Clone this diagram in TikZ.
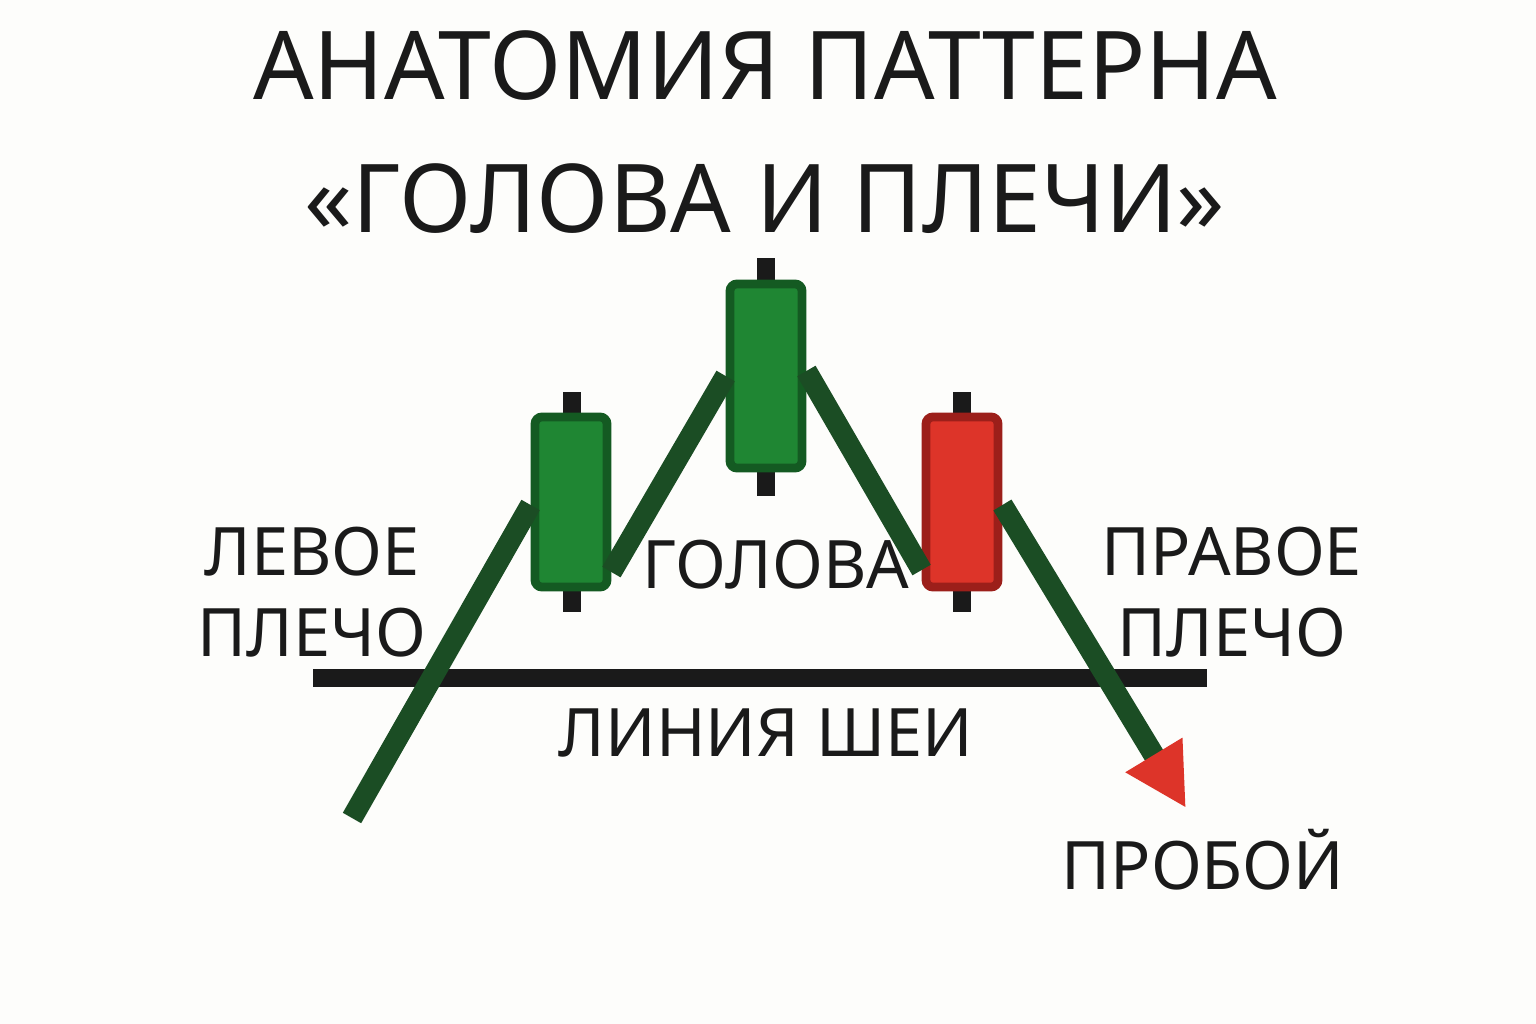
\documentclass[tikz,border=0pt]{standalone}
\usepackage{fontspec}
\setmainfont{Noto Sans}
\usetikzlibrary{arrows.meta}
\definecolor{bg}{HTML}{FDFDFB}
\definecolor{candlegreen}{HTML}{1F8633}
\definecolor{greenedge}{HTML}{145A22}
\definecolor{candlered}{HTML}{DD3429}
\definecolor{rededge}{HTML}{9C1F1A}
\definecolor{trendline}{HTML}{1B4D24}
\definecolor{ink}{HTML}{1A1A1A}
\begin{document}
\begin{tikzpicture}[x=0.01cm,y=-0.01cm]
	\tikzstyle{candle}=[draw,rectangle,rounded corners=2pt,line width=2.5pt,minimum width=0.72cm,inner sep=0pt]
	\tikzstyle{wick}=[line width=5pt,ink]
	\tikzstyle{trend}=[line width=6pt,trendline]
	\tikzstyle{label}=[font=\bfseries\fontsize{19}{23}\selectfont,text=ink,align=center]

	\fill[bg] (0,0) rectangle (1536,1024);
	\useasboundingbox (0,0) rectangle (1536,1024);

	% title
	\node[font=\bfseries\fontsize{27}{32}\selectfont,text=ink,align=center] (title) at (765,132) {АНАТОМИЯ ПАТТЕРНА\\[6pt]«ГОЛОВА И ПЛЕЧИ»};

	% wicks
	\draw[wick] (572,392) -- (572,612);
	\draw[wick] (766,258) -- (766,496);
	\draw[wick] (962,392) -- (962,612);

	% candles
	\node[candle,fill=candlegreen,draw=greenedge,minimum height=1.70cm] (left) at (571,502) {};
	\node[candle,fill=candlegreen,draw=greenedge,minimum height=1.84cm] (head) at (766,376) {};
	\node[candle,fill=candlered,draw=rededge,minimum height=1.70cm] (right) at (962,502) {};

	% neckline
	\coordinate (neckA) at (313,678);
	\coordinate (neckB) at (1207,678);
	\draw[line width=5pt,ink] (neckA) -- (neckB);

	% price path
	\coordinate (start) at (352,818);
	\coordinate (brk) at (1186,808);
	\draw[trend] (start) -- ([yshift=-0.03cm]left.west);
	\draw[trend] ([yshift=-0.7cm]left.east) -- ([yshift=0.0cm]head.west);
	\draw[trend] ([yshift=0.05cm]head.east) -- ([yshift=-0.68cm]right.west);
	\draw[trend,-{Triangle[length=0.62cm,width=0.62cm,color=candlered]}] ([yshift=-0.03cm]right.east) -- (brk);

	% labels
	\node[label] (lsh) at (312,592) {ЛЕВОЕ\\ПЛЕЧО};
	\node[label] (hd) at (776,565) {ГОЛОВА};
	\node[label] (rsh) at (1232,592) {ПРАВОЕ\\ПЛЕЧО};
	\node[label] (neck) at (766,733) {ЛИНИЯ ШЕИ};
	\node[label] (brkl) at (1203,860) {ПРОБОЙ};
\end{tikzpicture}
\end{document}
